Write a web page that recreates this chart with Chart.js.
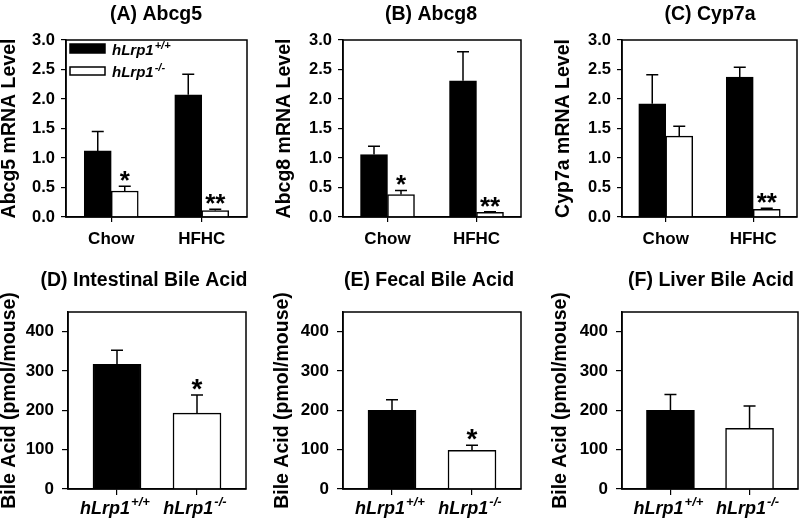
<!DOCTYPE html>
<html>
<head>
<meta charset="utf-8">
<script src="https://cdn.jsdelivr.net/npm/chart.js@4/dist/chart.umd.min.js"></script>
<style>
  body { margin: 0; background: #fff; }
  #wrap { position: relative; width: 800px; height: 524px; }
  #wrap canvas { position: absolute; left: 0; top: 0; }
</style>
</head>
<body>
<div id="wrap">
  <canvas id="pA" width="800" height="524"></canvas>
  <canvas id="pB" width="800" height="524"></canvas>
  <canvas id="pC" width="800" height="524"></canvas>
  <canvas id="pD" width="800" height="524"></canvas>
  <canvas id="pE" width="800" height="524"></canvas>
  <canvas id="pF" width="800" height="524"></canvas>
</div>
<script>
// --- data ---
const dietGroups = ['Chow', 'HFHC'];
const genotypes = [['hLrp1', '+/+'], ['hLrp1', '-/-']];
const genotypePos = [0, 1];
const mrnaTicks = [0, 0.5, 1, 1.5, 2, 2.5, 3];
const bileTicks = [0, 100, 200, 300, 400];

const abcg5Wt = [1.12, 2.07];
const abcg5WtSem = [0.33, 0.35];
const abcg5Ko = [0.44, 0.11];
const abcg5KoSem = [0.08, 0.02];
const abcg5Stars = ['*', '**'];

const abcg8Wt = [1.06, 2.31];
const abcg8WtSem = [0.14, 0.49];
const abcg8Ko = [0.38, 0.08];
const abcg8KoSem = [0.07, 0.01];
const abcg8Stars = ['*', '**'];

const cyp7aWt = [1.92, 2.37];
const cyp7aWtSem = [0.49, 0.17];
const cyp7aKo = [1.37, 0.13];
const cyp7aKoSem = [0.17, 0.02];
const cyp7aStars = ['', '**'];

const intestinalBA = [317, 193];
const intestinalBASem = [36, 46];
const intestinalStars = ['', '*'];

const fecalBA = [200, 98];
const fecalBASem = [27, 13];
const fecalStars = ['', '*'];

const liverBA = [200, 154];
const liverBASem = [40, 57];
const liverStars = ['', ''];

const FONT = "'Liberation Sans', Arial, sans-serif";
Chart.defaults.font.family = FONT;
Chart.defaults.color = '#000';
Chart.defaults.animation = false;

// italic gene name with superscript genotype
function drawGenotype(ctx, pair, x, y, size, align) {
    const supSize = Math.round(size * 0.7);
    ctx.font = `italic bold ${size}px ${FONT}`;
    const wb = ctx.measureText(pair[0]).width;
    ctx.font = `italic bold ${supSize}px ${FONT}`;
    const ws = ctx.measureText(pair[1]).width;
    const x0 = align === 'center' ? x - (wb + ws + 1) / 2 : x;
    ctx.textAlign = 'left';
    ctx.textBaseline = 'alphabetic';
    ctx.font = `italic bold ${size}px ${FONT}`;
    ctx.fillText(pair[0], x0, y);
    ctx.font = `italic bold ${supSize}px ${FONT}`;
    ctx.fillText(pair[1], x0 + wb + 1, y - size * 0.42);
}

const decor = {
    id: 'decor',
    afterDatasetsDraw(chart, args, opts) {
        const {ctx, chartArea: a, scales: {y}} = chart;
        ctx.save();
        ctx.strokeStyle = '#000';
        ctx.fillStyle = '#000';

        // error bars (upper only) and significance marks
        chart.data.datasets.forEach((ds, i) => {
            chart.getDatasetMeta(i).data.forEach((bar, j) => {
                const raw = ds.data[j];
                const val = typeof raw === 'object' ? raw.y : raw;
                const top = y.getPixelForValue(val + ds.sem[j]);
                ctx.lineWidth = 1.5;
                ctx.beginPath();
                ctx.moveTo(bar.x, bar.y);
                ctx.lineTo(bar.x, top);
                ctx.moveTo(bar.x - opts.cap / 2, top);
                ctx.lineTo(bar.x + opts.cap / 2, top);
                ctx.stroke();
                if (ds.stars[j]) {
                    ctx.font = `bold ${opts.starSize}px ${FONT}`;
                    ctx.textAlign = 'center';
                    ctx.textBaseline = 'alphabetic';
                    ctx.fillText(ds.stars[j], bar.x, top + opts.starShift);
                }
            });
        });

        // plot frame
        ctx.lineWidth = 1.5;
        ctx.strokeRect(a.left, a.top, a.right - a.left, a.bottom - a.top);

        // panel title
        ctx.font = `bold 19.5px ${FONT}`;
        ctx.textAlign = 'center';
        ctx.textBaseline = 'middle';
        ctx.fillText(opts.title, opts.titleX, opts.titleY);

        // y axis title
        ctx.save();
        ctx.translate(opts.yTitleX, (a.top + a.bottom) / 2);
        ctx.rotate(-Math.PI / 2);
        ctx.fillText(opts.yTitle, 0, 0);
        ctx.restore();

        // genotype labels under bottom panels
        if (opts.genotypeLabels) {
            const x = chart.scales.x;
            genotypePos.forEach((p, i) => {
                drawGenotype(ctx, genotypes[i], x.getPixelForValue(p) - 2, opts.labelY, 18, 'center');
            });
        }

        // legend inside panel A
        if (opts.legend) {
            ctx.lineWidth = 1.5;
            ctx.fillRect(a.left + 4, a.top + 4, 35, 9);
            ctx.strokeRect(a.left + 4, a.top + 4, 35, 9);
            ctx.fillStyle = '#fff';
            ctx.fillRect(a.left + 4, a.top + 27, 35, 8);
            ctx.strokeRect(a.left + 4, a.top + 27, 35, 8);
            ctx.fillStyle = '#000';
            drawGenotype(ctx, genotypes[0], a.left + 46, a.top + 15, 15, 'left');
            drawGenotype(ctx, genotypes[1], a.left + 46, a.top + 37, 15, 'left');
        }
        ctx.restore();
    }
};

function yScale(max, ticks, fontSize, tickLen, pad, fmt) {
    return {
        min: 0,
        max: max,
        afterBuildTicks: s => { s.ticks = ticks.map(v => ({value: v})); },
        afterFit: s => { s.width = 44; },
        ticks: {font: {size: fontSize, weight: 'bold'}, padding: pad, callback: fmt},
        grid: {drawOnChartArea: false, color: '#000', lineWidth: 1.2, tickLength: tickLen},
        border: {display: true, color: '#000', width: 1.5}
    };
}

function padFor(box) {
    return {left: box[0] - 44, top: box[1], right: 800 - box[2], bottom: 524 - box[3] - 40};
}

function mrnaPanel(id, box, title, yTitle, titleX, yTitleX, wt, wtSem, ko, koSem, stars, legend) {
    new Chart(document.getElementById(id), {
        type: 'bar',
        data: {
            labels: dietGroups,
            datasets: [
                {data: wt, sem: wtSem, stars: ['', ''], backgroundColor: '#000', borderColor: '#000', borderWidth: 1.5},
                {data: ko, sem: koSem, stars: stars, backgroundColor: '#fff', borderColor: '#000', borderWidth: 1.5}
            ]
        },
        options: {
            responsive: false,
            barThickness: 27,
            layout: {padding: padFor(box)},
            plugins: {
                legend: {display: false},
                tooltip: {enabled: false},
                decor: {title, yTitle, titleX, titleY: 15, yTitleX, cap: 12, starSize: 26, starShift: 3, legend}
            },
            scales: {
                x: {
                    afterFit: s => { s.height = 40; },
                    ticks: {font: {size: 17, weight: 'bold'}, padding: 7},
                    grid: {offset: false, drawOnChartArea: false, color: '#000', lineWidth: 1.2, tickLength: 5},
                    border: {display: true, color: '#000', width: 1.5}
                },
                y: yScale(3, mrnaTicks, 16.5, 5, 6, v => v.toFixed(1))
            }
        },
        plugins: [decor]
    });
}

function bilePanel(id, box, title, titleX, yTitleX, vals, sem, stars) {
    new Chart(document.getElementById(id), {
        type: 'bar',
        data: {
            datasets: [{
                data: genotypePos.map((p, i) => ({x: p, y: vals[i]})),
                sem: sem,
                stars: stars,
                backgroundColor: ['#000', '#fff'],
                borderColor: '#000',
                borderWidth: 1.5
            }]
        },
        options: {
            responsive: false,
            barThickness: 48,
            layout: {padding: padFor(box)},
            plugins: {
                legend: {display: false},
                tooltip: {enabled: false},
                decor: {title, yTitle: 'Bile Acid (pmol/mouse)', titleX, titleY: 281, yTitleX,
                        cap: 12, starSize: 28, starShift: 3, genotypeLabels: true, labelY: 514}
            },
            scales: {
                x: {
                    type: 'linear',
                    offset: false,
                    min: -0.6125,
                    max: 1.6125,
                    afterBuildTicks: s => { s.ticks = genotypePos.map(v => ({value: v})); },
                    afterFit: s => { s.height = 40; },
                    ticks: {display: false},
                    grid: {offset: false, drawOnChartArea: false, color: '#000', lineWidth: 1.2, tickLength: 6},
                    border: {display: true, color: '#000', width: 1.5}
                },
                y: yScale(450, bileTicks, 17, 6, 8, v => String(v))
            }
        },
        plugins: [decor]
    });
}

mrnaPanel('pA', [66, 40, 247, 217], '(A) Abcg5', 'Abcg5 mRNA Level', 156, 10,
    abcg5Wt, abcg5WtSem, abcg5Ko, abcg5KoSem, abcg5Stars, true);
mrnaPanel('pB', [343, 40, 521, 217], '(B) Abcg8', 'Abcg8 mRNA Level', 431, 285,
    abcg8Wt, abcg8WtSem, abcg8Ko, abcg8KoSem, abcg8Stars, false);
mrnaPanel('pC', [622, 40, 797, 217], '(C) Cyp7a', 'Cyp7a mRNA Level', 710, 564,
    cyp7aWt, cyp7aWtSem, cyp7aKo, cyp7aKoSem, cyp7aStars, false);

bilePanel('pD', [68, 312, 246, 489], '(D) Intestinal Bile Acid', 144, 10, intestinalBA, intestinalBASem, intestinalStars);
bilePanel('pE', [343, 312, 521, 489], '(E) Fecal Bile Acid', 429, 283, fecalBA, fecalBASem, fecalStars);
bilePanel('pF', [622, 312, 798, 489], '(F) Liver Bile Acid', 711, 561, liverBA, liverBASem, liverStars);
</script>
</body>
</html>
